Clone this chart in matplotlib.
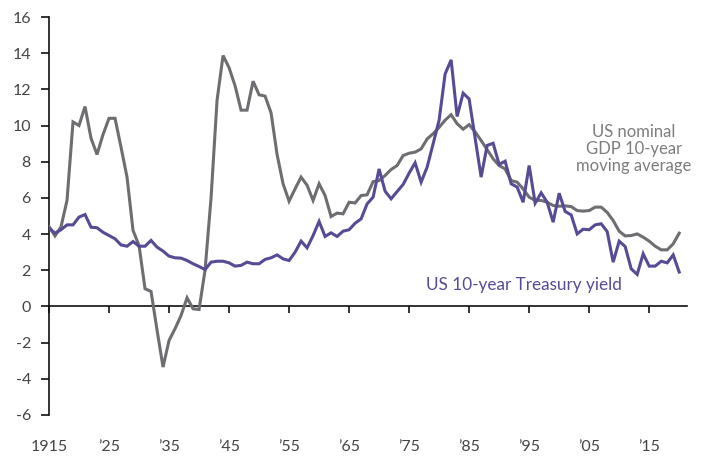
import matplotlib
matplotlib.use("Agg")
import matplotlib.pyplot as plt
import numpy as np

years = list(range(1915, 2021))

gdp_10yr_avg = [
    4.42, 3.9, 4.4, 5.86, 10.2, 10.0, 11.05, 9.3, 8.4, 9.5,          # 1915-1924
    10.4, 10.4, 8.8, 7.15, 4.2, 3.37, 0.98, 0.83, -1.3, -3.35,       # 1925-1934
    -1.88, -1.23, -0.5, 0.48, -0.13, -0.17, 2.0, 6.0, 11.4, 13.87,   # 1935-1944
    13.2, 12.2, 10.85, 10.85, 12.45, 11.7, 11.63, 10.7, 8.4, 6.78,   # 1945-1954
    5.82, 6.5, 7.15, 6.7, 5.86, 6.78, 6.13, 4.97, 5.16, 5.12,        # 1955-1964
    5.76, 5.72, 6.13, 6.17, 6.9, 6.96, 7.24, 7.57, 7.79, 8.34,       # 1965-1974
    8.47, 8.53, 8.71, 9.26, 9.55, 9.9, 10.3, 10.6, 10.1, 9.8,        # 1975-1984
    10.05, 9.65, 9.17, 8.67, 8.16, 7.79, 7.6, 6.96, 6.87, 6.5,       # 1985-1994
    6.04, 5.86, 5.86, 5.76, 5.58, 5.54, 5.56, 5.52, 5.3, 5.27,       # 1995-2004
    5.3, 5.49, 5.49, 5.2, 4.75, 4.16, 3.9, 3.92, 4.01, 3.83,         # 2005-2014
    3.61, 3.33, 3.13, 3.13, 3.46, 4.05,                              # 2015-2020
]

treasury_10yr = [
    4.33, 4.05, 4.24, 4.51, 4.51, 4.94, 5.08, 4.38, 4.35, 4.1,       # 1915-1924
    3.92, 3.74, 3.4, 3.33, 3.59, 3.33, 3.33, 3.65, 3.28, 3.06,       # 1925-1934
    2.78, 2.69, 2.67, 2.54, 2.36, 2.21, 2.04, 2.45, 2.5, 2.5,        # 1935-1944
    2.41, 2.23, 2.27, 2.45, 2.36, 2.36, 2.6, 2.69, 2.85, 2.63,       # 1945-1954
    2.54, 3.0, 3.61, 3.24, 3.92, 4.7, 3.87, 4.07, 3.87, 4.16,        # 1955-1964
    4.24, 4.6, 4.84, 5.67, 6.04, 7.6, 6.37, 5.95, 6.35, 6.74,        # 1965-1974
    7.37, 7.94, 6.87, 7.7, 8.99, 10.3, 12.85, 13.63, 10.5, 11.79,    # 1975-1984
    11.47, 9.3, 7.15, 8.9, 9.02, 7.85, 8.03, 6.78, 6.6, 5.76,        # 1985-1994
    7.79, 5.71, 6.28, 5.76, 4.66, 6.26, 5.25, 5.06, 4.01, 4.27,      # 1995-2004
    4.24, 4.51, 4.57, 4.14, 2.45, 3.61, 3.31, 2.08, 1.77, 2.91,      # 2005-2014
    2.23, 2.23, 2.5, 2.41, 2.85, 1.9,                                # 2015-2020
]

xtick_years = [1915, 1925, 1935, 1945, 1955, 1965, 1975, 1985, 1995, 2005, 2015]
xtick_labels = ["1915", "\u201925", "\u201935", "\u201945", "\u201955", "\u201965",
                "\u201975", "\u201985", "\u201995", "\u201905", "\u201915"]
ytick_values = [-6, -4, -2, 0, 2, 4, 6, 8, 10, 12, 14, 16]

gray = "#6d6e71"
purple = "#584a94"
text_gray = "#7d7d7d"
tick_color = "#444444"

plt.rcParams['font.family'] = ['Lato', 'DejaVu Sans']

fig = plt.figure(figsize=(7.01, 4.57), dpi=100)
ax = fig.add_axes([49 / 701, 1 - 415 / 457, (687 - 49) / 701, (415 - 17) / 457])

ax.plot(years, gdp_10yr_avg, color=gray, lw=2.2, solid_joinstyle='miter', zorder=3)
ax.plot(years, treasury_10yr, color=purple, lw=2.2, solid_joinstyle='miter', zorder=4)

ax.set_xlim(1915, 2021.3)
ax.set_ylim(-6, 16)

for s in ['top', 'right']:
    ax.spines[s].set_visible(False)
ax.spines['bottom'].set_position(('data', 0))
ax.spines['bottom'].set_linewidth(1.2)
ax.spines['left'].set_linewidth(1.2)
ax.spines['bottom'].set_color('#111111')
ax.spines['left'].set_color('#111111')

ax.set_yticks(ytick_values)
ax.set_yticklabels([str(v) for v in ytick_values])
ax.set_xticks(xtick_years)
ax.set_xticklabels(xtick_labels)

ax.tick_params(axis='y', direction='out', length=6, width=1.2, pad=7,
               labelsize=11.5, labelcolor=tick_color, color='#111111')
ax.tick_params(axis='x', direction='out', length=5, width=1.2, pad=91,
               labelsize=11.5, labelcolor=tick_color, color='#111111')

ax.text(2012.5, 8.7, "US nominal\nGDP 10-year\nmoving average", color=text_gray,
        fontsize=12, ha='center', va='center', linespacing=1.05)
ax.text(1977.8, 1.2, "US 10-year Treasury yield", color=purple,
        fontsize=12.3, ha='left', va='center')

fig.savefig("out.png", dpi=100)
